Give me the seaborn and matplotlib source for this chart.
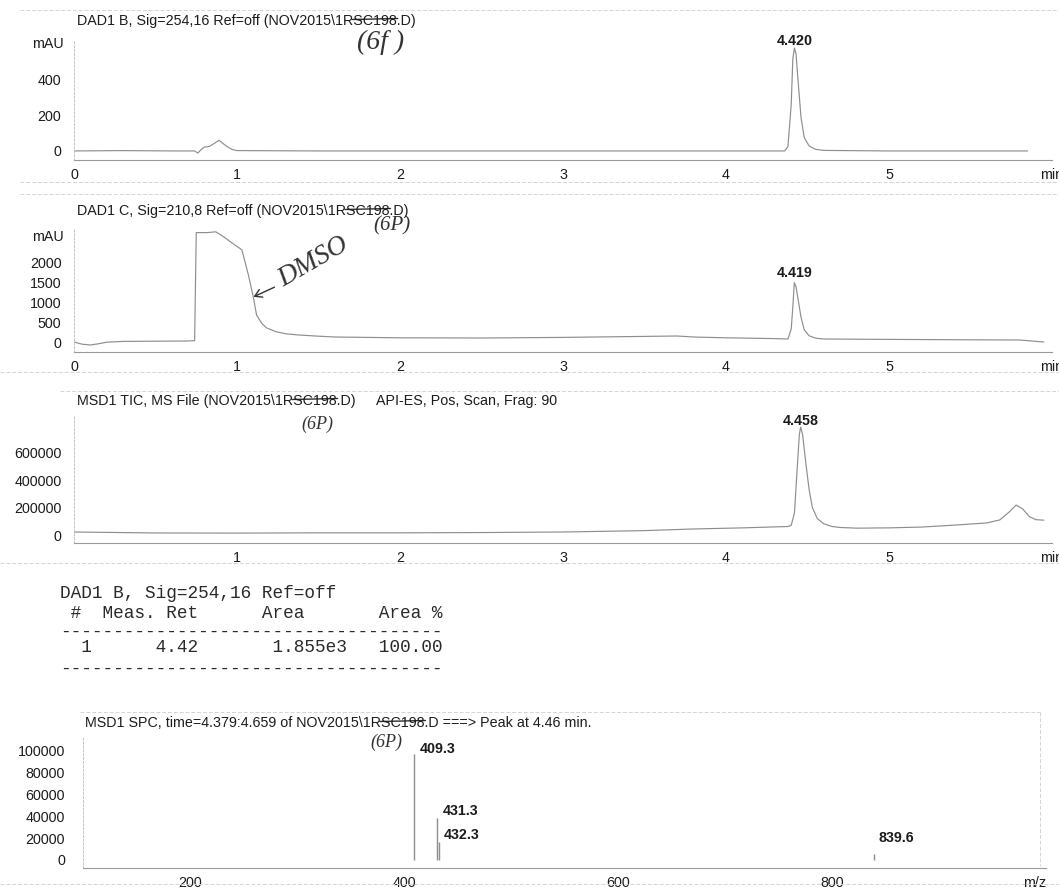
import matplotlib
matplotlib.use("Agg")
import matplotlib.pyplot as plt
from matplotlib.lines import Line2D
from matplotlib.patches import FancyArrowPatch
from matplotlib.ticker import MultipleLocator
import numpy as np
import pandas as pd
import seaborn as sns

# ---------------------------------------------------------------- data
# DAD1 B, 254 nm chromatogram (time / min, signal / mAU)
dad_b_time = [0.00, 0.30, 0.60, 0.74, 0.76, 0.78, 0.80, 0.83, 0.86, 0.89, 0.91,
              0.94, 0.97, 1.00, 1.50, 2.50, 3.50, 4.00, 4.36, 4.38, 4.40, 4.41,
              4.42, 4.43, 4.44, 4.46, 4.48, 4.51, 4.55, 4.60, 5.00, 5.50, 5.85]
dad_b_mau = [0, 2, 0, 0, -12, 8, 22, 25, 42, 60, 45,
             24, 8, 2, 0, 0, 0, 0, 0, 25, 260, 520,
             580, 545, 420, 190, 75, 28, 9, 3, 0, 0, 0]

# DAD1 C, 210 nm chromatogram (time / min, signal / mAU)
dad_c_time = [0.00, 0.05, 0.10, 0.15, 0.20, 0.30, 0.50, 0.70, 0.74, 0.75, 0.77,
              0.82, 0.87, 0.92, 0.97, 1.03, 1.07, 1.10, 1.12, 1.15, 1.18, 1.24,
              1.30, 1.38, 1.50, 1.60, 1.80, 2.00, 2.50, 3.00, 3.40, 3.70, 3.80,
              4.00, 4.30, 4.38, 4.40, 4.41, 4.419, 4.43, 4.44, 4.46, 4.48, 4.51,
              4.55, 4.60, 5.00, 5.50, 5.80, 5.95]
dad_c_mau = [25, -30, -50, -20, 20, 40, 45, 50, 60, 2760, 2760,
             2760, 2780, 2650, 2500, 2330, 1700, 1150, 700, 500, 380, 280,
             230, 200, 170, 150, 140, 130, 125, 140, 160, 175, 150,
             130, 110, 100, 350, 900, 1510, 1400, 1150, 650, 330, 180,
             120, 100, 90, 80, 75, 25]

# MSD1 total ion chromatogram (time / min, counts)
tic_time = [0.00, 0.50, 1.00, 1.50, 2.00, 2.50, 3.00, 3.50, 3.80, 4.10, 4.38,
            4.40, 4.42, 4.435, 4.45, 4.458, 4.47, 4.49, 4.51, 4.53, 4.56, 4.60,
            4.65, 4.70, 4.80, 5.00, 5.20, 5.40, 5.60, 5.68, 5.74, 5.78, 5.82,
            5.86, 5.90, 5.95]
tic_counts = [22000, 15000, 14000, 16000, 16000, 18000, 22000, 32000, 44000, 52000, 62000,
              70000, 160000, 450000, 730000, 785000, 730000, 520000, 330000, 200000, 120000, 82000,
              62000, 55000, 50000, 52000, 58000, 72000, 88000, 110000, 170000, 218000, 190000,
              135000, 112000, 108000]

# Mass spectrum at the main peak (m/z, abundance)
ms_mz = [409.3, 431.3, 432.3, 839.6]
ms_abundance = [96000, 38000, 16000, 5000]

# Area-percent report
report_signal = "DAD1 B, Sig=254,16 Ref=off"
peak_number = [1]
peak_ret = [4.42]
peak_area = [1.855e3]
peak_area_pct = [100.00]

time_ticks = [0, 1, 2, 3, 4, 5, 6]
time_tick_labels = ["0", "1", "2", "3", "4", "5", "min"]
mz_ticks = [200, 400, 600, 800, 1000]
mz_tick_labels = ["200", "400", "600", "800", "m/z"]

titles = [
    "DAD1 B, Sig=254,16 Ref=off (NOV2015\\1RSC198.D)",
    "DAD1 C, Sig=210,8 Ref=off (NOV2015\\1RSC198.D)",
    "MSD1 TIC, MS File (NOV2015\\1RSC198.D)",
    "MSD1 SPC, time=4.379:4.659 of NOV2015\\1RSC198.D ===> Peak at 4.46 min.",
]
tic_method = "API-ES, Pos, Scan, Frag: 90"

# ---------------------------------------------------------------- setup
W, H = 1059, 890
FS = 10.3
sns.set_theme(style="white")
plt.rcParams["font.family"] = ["Liberation Sans", "DejaVu Sans"]
plt.rcParams["font.size"] = FS

TEXT = "#1c1c1c"
TRACE = "#8e8e8e"
HAND = ["Liberation Serif", "DejaVu Serif"]
MONO = ["Liberation Mono", "DejaVu Sans Mono"]

fig = plt.figure(figsize=(W / 100, H / 100), dpi=100)
fig.patch.set_facecolor("white")
renderer = fig.canvas.get_renderer()


def fx(x):
    return x / W


def fy(y):
    return 1 - y / H


def panel(left, right, top, bottom):
    return fig.add_axes([fx(left), fy(bottom), (right - left) / W, (bottom - top) / H])


def style(ax):
    ax.set_facecolor("none")
    for s in ("top", "right"):
        ax.spines[s].set_visible(False)
    ax.spines["bottom"].set_color("#9a9a9a")
    ax.spines["bottom"].set_linewidth(0.8)
    ax.spines["left"].set_color("#c4c4c4")
    ax.spines["left"].set_linewidth(0.7)
    ax.spines["left"].set_linestyle((0, (2, 2)))
    ax.tick_params(axis="x", which="major", direction="out", length=5, width=0.7,
                   color="#8c8c8c", pad=0.5, labelsize=FS, labelcolor=TEXT)
    ax.tick_params(axis="x", which="minor", direction="out", length=3, width=0.6,
                   color="#a8a8a8")
    ax.tick_params(axis="y", which="major", direction="out", length=3, width=0.6,
                   color="#b4b4b4", pad=6, labelsize=FS, labelcolor=TEXT)
    ax.set_xlabel("")
    ax.set_ylabel("")


def trace(ax, t, v):
    df = pd.DataFrame({"time": t, "signal": v})
    sns.lineplot(data=df, x="time", y="signal", ax=ax, color=TRACE, linewidth=0.85,
                 estimator=None, sort=False)


def apex_label(ax, t, v, dy, t_from):
    """Label the highest point after t_from with its retention time."""
    t = np.asarray(t)
    v = np.asarray(v, dtype=float)
    masked = np.where(t >= t_from, v, -np.inf)
    i = int(np.argmax(masked))
    ax.annotate(f"{t[i]:.3f}", xy=(t[i], v[i]), xytext=(0, dy), textcoords="offset points",
                ha="center", va="bottom", fontsize=FS, fontweight="bold", color=TEXT)


def time_axis(ax, show_zero=True):
    ax.set_xlim(0, 6)
    ticks = time_ticks if show_zero else time_ticks[1:]
    labels = time_tick_labels if show_zero else time_tick_labels[1:]
    ax.set_xticks(ticks)
    ax.set_xticklabels(labels)
    ax.xaxis.set_minor_locator(MultipleLocator(0.2))


def title(x, y, s):
    return fig.text(fx(x), fy(y), s, ha="left", va="center", fontsize=FS, color=TEXT)


def strike(x, y, s, sub):
    """Pen line through part of a title."""
    start = s.index(sub)

    def width(txt):
        t = fig.text(0, 0, txt, fontsize=FS)
        w = t.get_window_extent(renderer).width
        t.remove()
        return w

    x0 = x + width(s[:start]) - 1
    x1 = x + width(s[:start + len(sub)]) + 1
    fig.add_artist(Line2D([fx(x0), fx(x1)], [fy(y - 0.5), fy(y - 1.5)],
                          transform=fig.transFigure, color="#2e2e2e", lw=1.0))


def hand(x, y, s, size, rot=0):
    fig.text(fx(x), fy(y), s, ha="center", va="center", fontsize=size, rotation=rot,
             family=HAND, style="italic", color="#333333")


# faint printed frame lines
for x0, y0, x1, y1 in [(20, 10, 1059, 10), (20, 182, 1059, 182), (20, 194, 1059, 194),
                       (0, 372, 1059, 372), (60, 391, 1059, 391), (0, 563, 1059, 563),
                       (80, 712, 1040, 712), (1040, 712, 1040, 866), (0, 884, 1059, 884)]:
    fig.add_artist(Line2D([fx(x0), fx(x1)], [fy(y0), fy(y1)], transform=fig.transFigure,
                          color="#d4d4d4", lw=0.7, linestyle=(0, (4, 2))))

# ---------------------------------------------------------------- DAD1 B
ax1 = panel(74, 1052, 40, 160)
trace(ax1, dad_b_time, dad_b_mau)
time_axis(ax1)
ax1.set_ylim(-51, 625)
ax1.set_yticks([0, 200, 400])
style(ax1)
ax1.text(-0.011, 600, "mAU", transform=ax1.get_yaxis_transform(), ha="right", va="center",
         fontsize=FS, color=TEXT)
apex_label(ax1, dad_b_time, dad_b_mau, 0, 4.0)
title(77, 21, titles[0])
strike(77, 20, titles[0], "SC198")

# ---------------------------------------------------------------- DAD1 C
ax2 = panel(74, 1052, 228, 352)
trace(ax2, dad_c_time, dad_c_mau)
time_axis(ax2)
ax2.set_ylim(-225, 2875)
ax2.set_yticks([0, 500, 1000, 1500, 2000])
style(ax2)
ax2.text(-0.011, 2650, "mAU", transform=ax2.get_yaxis_transform(), ha="right", va="center",
         fontsize=FS, color=TEXT)
apex_label(ax2, dad_c_time, dad_c_mau, 2, 4.0)
title(77, 211, titles[1])
strike(77, 210, titles[1], "SC198")

# ---------------------------------------------------------------- TIC
ax3 = panel(74, 1052, 415, 543)
trace(ax3, tic_time, tic_counts)
time_axis(ax3, show_zero=False)
ax3.set_ylim(-58000, 873000)
ax3.set_yticks([0, 200000, 400000, 600000])
ax3.set_yticklabels(["0", "200000", "400000", "600000"])
style(ax3)
apex_label(ax3, tic_time, tic_counts, -1, 4.0)
title(77, 401, titles[2])
strike(77, 400, titles[2], "SC198")
fig.text(fx(376), fy(401), tic_method, ha="left", va="center", fontsize=FS, color=TEXT)

# ---------------------------------------------------------------- report table
table_lines = [report_signal, " #  Meas. Ret      Area       Area %", "-" * 36]
for n, r, a, p in zip(peak_number, peak_ret, peak_area, peak_area_pct):
    area_txt = f"{a:.3e}".replace("e+0", "e")
    table_lines.append(f"{n:3d}{r:10.2f}{area_txt:>14}{p:9.2f}")
table_lines.append("-" * 36)
for line, y in zip(table_lines, [594, 613, 632, 647, 669]):
    fig.text(fx(60), fy(y), line, ha="left", va="center", fontsize=12.8, family=MONO,
             color="#2a2a2a")

# ---------------------------------------------------------------- mass spectrum
ax4 = panel(83, 1046, 738, 868)
ax4.vlines(ms_mz, 0, ms_abundance, color=TRACE, linewidth=1.0)
ax4.set_xlim(100, 1000)
ax4.set_ylim(-7300, 111000)
ax4.set_xticks(mz_ticks)
ax4.set_xticklabels(mz_tick_labels)
ax4.get_xticklabels()[-1].set_horizontalalignment("right")
ax4.xaxis.set_minor_locator(MultipleLocator(50))
ax4.set_yticks([0, 20000, 40000, 60000, 80000, 100000])
ax4.set_yticklabels(["0", "20000", "40000", "60000", "80000", "100000"])
style(ax4)
ax4.tick_params(axis="y", pad=10)
ms_label_offsets = {409.3: (4, 4), 431.3: (4, 5), 432.3: (4, 5), 839.6: (3, 12)}
for mz, ab in zip(ms_mz, ms_abundance):
    ox, oy = ms_label_offsets[mz]
    ax4.annotate(f"{mz:.1f}", xy=(mz, ab), xytext=(ox, oy), textcoords="offset points",
                 ha="left", va="center", fontsize=FS, fontweight="bold", color=TEXT)
title(85, 723, titles[3])
strike(85, 722, titles[3], "SC198")

# ---------------------------------------------------------------- pen notes
hand(381, 42, "(6f )", 20)
hand(392, 226, "(6P)", 15)
hand(313, 262, "DMSO", 20, rot=30)
fig.add_artist(FancyArrowPatch(
    (fx(277), fy(286)), (fx(251), fy(298)), transform=fig.transFigure,
    arrowstyle="->,head_length=5,head_width=3", color="#333333", lw=1.0))
hand(317, 424, "(6P)", 13)
hand(386, 742, "(6P)", 13)

fig.savefig("out.png", dpi=100, facecolor="white")
